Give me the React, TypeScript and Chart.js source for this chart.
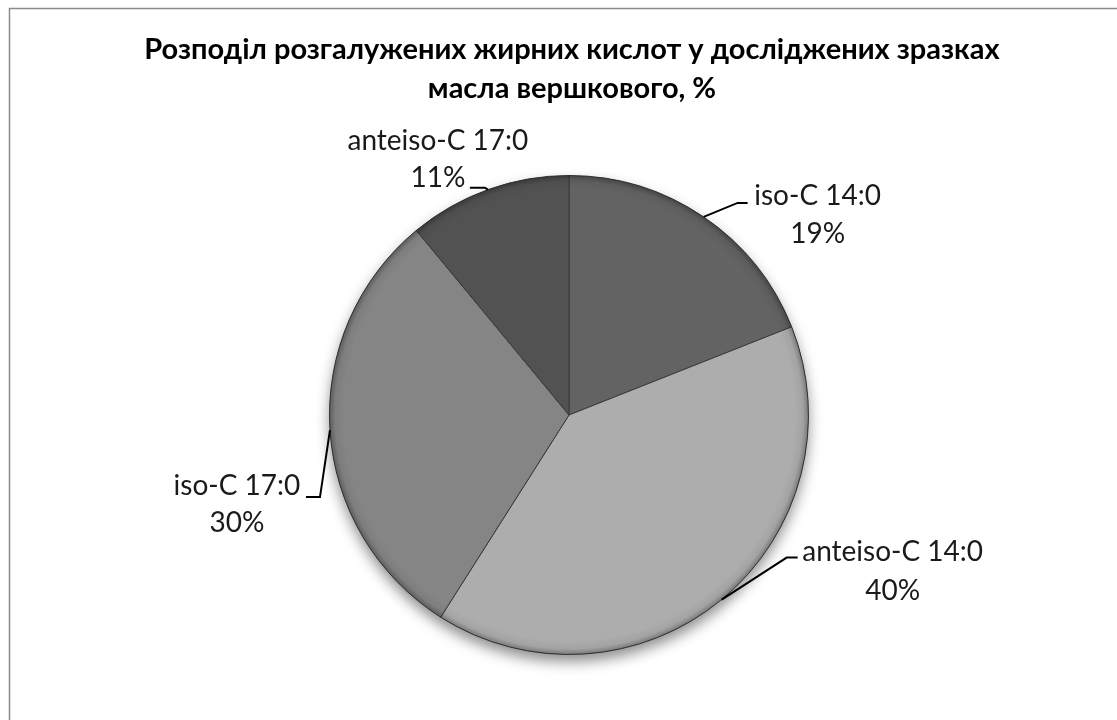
import React, { useEffect, useRef } from "react";
import { Chart, registerables } from "chart.js";

Chart.register(...registerables);

const categories = ["iso-C 14:0", "anteiso-C 14:0", "iso-C 17:0", "anteiso-C 17:0"];
const shares = [19, 40, 30, 11];
const percentLabels = ["19%", "40%", "30%", "11%"];
const titleLines = [
  "Розподіл розгалужених жирних кислот у досліджених зразках",
  "масла вершкового, %",
];
const sliceColors = ["#636363", "#adadad", "#858585", "#525252"];

// label layout relative to the leader-line start on the slice edge
const labelLayout = [
  { ex: 34, ey: -14, endX: 44, tx: 114, ty: -21, py: 17 },
  { ex: 65, ey: -42, endX: 76, tx: 171, ty: -48, py: -9 },
  { ex: -10, ey: 67, endX: -24, tx: -93, ty: 56, py: 93 },
  { ex: -3, ey: -2, endX: -18, tx: -50, ty: -49, py: -12 },
];

const FONT = "Lato, 'Noto Sans', 'DejaVu Sans', sans-serif";

const decorPlugin = {
  id: "decor",
  beforeDraw(chart: any) {
    const ctx = chart.ctx;
    ctx.save();
    ctx.fillStyle = "#ffffff";
    ctx.fillRect(0, 0, chart.width, chart.height);
    ctx.strokeStyle = "#8a8a8a";
    ctx.lineWidth = 1.5;
    ctx.beginPath();
    ctx.moveTo(9.5, chart.height + 5);
    ctx.lineTo(9.5, 8.5);
    ctx.lineTo(chart.width + 5, 8.5);
    ctx.stroke();
    // title
    ctx.fillStyle = "#000";
    ctx.font = `bold 29px ${FONT}`;
    ctx.textAlign = "center";
    ctx.textBaseline = "alphabetic";
    ctx.fillText(titleLines[0], 572, 59);
    ctx.fillText(titleLines[1], 572, 98);
    ctx.restore();
  },
  beforeDatasetsDraw(chart: any) {
    const arc = chart.getDatasetMeta(0).data[0];
    if (!arc) return;
    const ctx = chart.ctx;
    ctx.save();
    ctx.shadowColor = "rgba(0,0,0,0.45)";
    ctx.shadowBlur = 14;
    ctx.shadowOffsetY = 7;
    ctx.fillStyle = "#888";
    ctx.beginPath();
    ctx.arc(arc.x, arc.y, arc.outerRadius, 0, Math.PI * 2);
    ctx.fill();
    ctx.restore();
  },
  afterDatasetsDraw(chart: any) {
    const meta = chart.getDatasetMeta(0);
    const ctx = chart.ctx;
    const first = meta.data[0];
    // rim bevel
    ctx.save();
    const g = ctx.createRadialGradient(first.x, first.y, first.outerRadius - 14, first.x, first.y, first.outerRadius);
    g.addColorStop(0, "rgba(0,0,0,0)");
    g.addColorStop(0.6, "rgba(0,0,0,0.06)");
    g.addColorStop(1, "rgba(0,0,0,0.3)");
    ctx.fillStyle = g;
    ctx.beginPath();
    ctx.arc(first.x, first.y, first.outerRadius, 0, Math.PI * 2);
    ctx.arc(first.x, first.y, first.outerRadius - 14, 0, Math.PI * 2, true);
    ctx.fill();
    ctx.restore();

    meta.data.forEach((el: any, i: number) => {
      const mid = (el.startAngle + el.endAngle) / 2;
      const sx = el.x + Math.cos(mid) * el.outerRadius;
      const sy = el.y + Math.sin(mid) * el.outerRadius;
      const L = labelLayout[i];
      ctx.save();
      ctx.strokeStyle = "#000";
      ctx.lineWidth = 2;
      ctx.beginPath();
      ctx.moveTo(sx, sy);
      ctx.lineTo(sx + L.ex, sy + L.ey);
      ctx.lineTo(sx + L.endX, sy + L.ey);
      ctx.stroke();
      ctx.fillStyle = "#1a1a1a";
      ctx.font = `28px ${FONT}`;
      ctx.textAlign = "center";
      ctx.textBaseline = "middle";
      ctx.fillText(categories[i], sx + L.tx, sy + L.ty);
      ctx.fillText(percentLabels[i], sx + L.tx, sy + L.py);
      ctx.restore();
    });
  },
};

export default function App() {
  const ref = useRef<HTMLCanvasElement | null>(null);
  useEffect(() => {
    if (!ref.current) return;
    const chart = new Chart(ref.current, {
      type: "pie",
      data: {
        labels: categories,
        datasets: [
          {
            data: shares,
            backgroundColor: sliceColors,
            borderColor: "#3a3a3a",
            borderWidth: 1,
          },
        ],
      },
      options: {
        responsive: false,
        animation: false,
        layout: { padding: { top: 175, bottom: 65, left: 329, right: 308 } },
        plugins: {
          legend: { display: false },
          tooltip: { enabled: false },
          title: { display: false },
        },
      },
      plugins: [decorPlugin],
    });
    return () => chart.destroy();
  }, []);
  return (
    <div style={{ position: "absolute", left: 0, top: 0, width: 1117, height: 720, background: "#fff" }}>
      <canvas ref={ref} width={1117} height={720} style={{ display: "block", width: 1117, height: 720 }} />
    </div>
  );
}
